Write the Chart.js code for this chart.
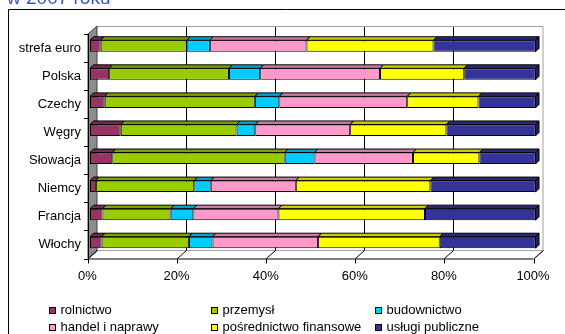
<!DOCTYPE html>
<html>
<head>
<meta charset="utf-8">
<script src="https://cdn.jsdelivr.net/npm/chart.js@4"></script>
<style>
  body { margin: 0; background: #fff; }
  #wrap { position: relative; width: 565px; height: 334px; }
</style>
</head>
<body>
<div id="wrap"><canvas id="sectorChart"></canvas></div>
<script>
// Struktura wartości dodanej wg sektorów, w 2007 roku (udział %)
const categories = ['strefa euro', 'Polska', 'Czechy', 'Węgry', 'Słowacja', 'Niemcy', 'Francja', 'Włochy'];
const rolnictwo = [2.4, 4.3, 3.3, 6.9, 5.0, 1.3, 2.8, 2.6];
const przemysl = [19.3, 26.9, 33.7, 26.0, 38.7, 22.1, 15.3, 19.6];
const budownictwo = [5.2, 7.0, 5.5, 4.2, 6.7, 3.7, 5.1, 5.3];
const handel = [21.7, 26.9, 28.7, 21.3, 22.1, 19.1, 19.1, 23.7];
const posrednictwo = [28.5, 18.9, 16.0, 21.6, 14.9, 30.2, 32.9, 27.3];
const uslugi = [22.9, 16.0, 12.8, 20.0, 12.6, 23.6, 24.8, 21.5];
const xTicks = [0, 20, 40, 60, 80, 100];
const titleText = 'w 2007 roku';

const FONT = '"Liberation Sans", Arial, sans-serif';
Chart.defaults.font.family = FONT;
Chart.defaults.font.size = 13;
Chart.defaults.color = '#000';

// colours: front face, top face
const series = [
  { label: 'rolnictwo', data: rolnictwo, color: '#993366', top: '#7a2952' },
  { label: 'przemysł', data: przemysl, color: '#99cc00', top: '#7aa300' },
  { label: 'budownictwo', data: budownictwo, color: '#00ccff', top: '#00a3cc' },
  { label: 'handel i naprawy', data: handel, color: '#ff99cc', top: '#cc7aa3' },
  { label: 'pośrednictwo finansowe', data: posrednictwo, color: '#ffff00', top: '#cccc00' },
  { label: 'usługi publiczne', data: uslugi, color: '#333399', top: '#29297a', side: '#1f1f5c' }
];

// fake 3D: walls, floor, bar tops, legend and the cut title
const depth3d = {
  id: 'depth3d',
  beforeDatasetsDraw(chart) {
    const ctx = chart.ctx;
    const a = chart.chartArea;
    const xs = chart.scales.x;
    const ys = chart.scales.y;
    const fT = a.top + 2, fB = a.bottom + 2, bT = a.top - 6, bB = a.bottom - 6;
    const x0f = xs.getPixelForValue(0) - 2, x1f = xs.getPixelForValue(100) - 2;
    const x0b = x0f + 9, x1b = x1f + 9;
    ctx.save();
    ctx.lineWidth = 1;

    // back wall
    ctx.fillStyle = '#fff';
    ctx.fillRect(x0b, bT, x1b - x0b, bB - bT);
    ctx.strokeStyle = '#a0a0a0';
    ctx.beginPath();
    ctx.moveTo(x0b, bT + 0.5); ctx.lineTo(x1b + 0.5, bT + 0.5); ctx.lineTo(x1b + 0.5, bB);
    ctx.stroke();

    // floor
    ctx.beginPath();
    ctx.moveTo(x0f, fB); ctx.lineTo(x0b, bB); ctx.lineTo(x1b + 0.5, bB); ctx.lineTo(x1f + 0.5, fB);
    ctx.fillStyle = '#fff';
    ctx.fill();
    ctx.strokeStyle = '#a0a0a0';
    ctx.stroke();

    // side wall
    ctx.beginPath();
    ctx.moveTo(x0f, fT); ctx.lineTo(x0b, bT); ctx.lineTo(x0b, bB); ctx.lineTo(x0f, fB);
    ctx.closePath();
    ctx.fillStyle = '#8c8c8c';
    ctx.fill();
    ctx.strokeStyle = '#404040';
    ctx.stroke();

    // grid on back wall and floor, x ticks
    ctx.strokeStyle = '#000';
    xTicks.forEach(v => {
      const xf = Math.round(xs.getPixelForValue(v) - 2) + 0.5;
      const xb = xf + 9;
      if (v > 0 && v < 100) {
        ctx.beginPath(); ctx.moveTo(xb, bT + 1); ctx.lineTo(xb, bB); ctx.stroke();
      }
      ctx.beginPath();
      ctx.moveTo(xb, bB); ctx.lineTo(xf, fB);
      ctx.lineTo(xf, fB + 5);
      ctx.stroke();
    });

    // axis lines
    ctx.beginPath();
    ctx.moveTo(x0f + 0.5, fT); ctx.lineTo(x0f + 0.5, fB + 0.5); ctx.lineTo(x1f, fB + 0.5);
    ctx.stroke();

    // category ticks
    const step = (a.bottom - a.top) / categories.length;
    for (let i = 0; i <= categories.length; i++) {
      const y = Math.round(a.top + 2 + i * step) + 0.5;
      ctx.beginPath(); ctx.moveTo(x0f - 4, y); ctx.lineTo(x0f + 0.5, y); ctx.stroke();
    }
    ctx.restore();
  },
  afterDatasetsDraw(chart) {
    const ctx = chart.ctx;
    const d = 3.5;
    ctx.save();
    ctx.lineWidth = 1;
    ctx.strokeStyle = '#000';
    chart.data.datasets.forEach((ds, i) => {
      const meta = chart.getDatasetMeta(i);
      meta.data.forEach(el => {
        const p = el.getProps(['x', 'y', 'base', 'height'], true);
        const top = p.y - p.height / 2, bot = p.y + p.height / 2;
        ctx.beginPath();
        ctx.moveTo(p.base, top); ctx.lineTo(p.x, top);
        ctx.lineTo(p.x + d, top - d); ctx.lineTo(p.base + d, top - d);
        ctx.closePath();
        ctx.fillStyle = series[i].top;
        ctx.fill(); ctx.stroke();
        if (series[i].side) {
          ctx.beginPath();
          ctx.moveTo(p.x, top); ctx.lineTo(p.x + d, top - d);
          ctx.lineTo(p.x + d, bot - d); ctx.lineTo(p.x, bot);
          ctx.closePath();
          ctx.fillStyle = series[i].side;
          ctx.fill(); ctx.stroke();
        }
      });
    });
    ctx.restore();
  },
  afterDraw(chart) {
    const ctx = chart.ctx;
    ctx.save();
    // outer frame (only left and top edges are in view)
    ctx.strokeStyle = '#000';
    ctx.lineWidth = 1;
    ctx.beginPath();
    ctx.moveTo(8.5, 334); ctx.lineTo(8.5, 9.5); ctx.lineTo(565, 9.5);
    ctx.stroke();

    // title, cut by the top edge
    ctx.fillStyle = '#3355cc';
    ctx.font = '19px ' + FONT;
    ctx.textBaseline = 'alphabetic';
    ctx.fillText(titleText, 7, 4);

    // legend, 3 columns x 2 rows
    const cols = [49, 211, 375];
    const rows = [310.5, 327.5];
    ctx.font = '13px ' + FONT;
    ctx.textBaseline = 'middle';
    series.forEach((s, i) => {
      const x = cols[i % 3], y = rows[Math.floor(i / 3)];
      ctx.fillStyle = s.color;
      ctx.fillRect(x + 0.5, Math.round(y - 3.5) + 0.5, 6, 6);
      ctx.strokeStyle = '#000';
      ctx.strokeRect(x + 0.5, Math.round(y - 3.5) + 0.5, 6, 6);
      ctx.fillStyle = '#000';
      ctx.fillText(s.label, x + 11.5, y);
    });
    ctx.restore();
  }
};

const ctx = document.getElementById('sectorChart').getContext('2d');

new Chart(ctx, {
  type: 'bar',
  data: {
    labels: categories,
    datasets: series.map(s => ({
      label: s.label,
      data: s.data,
      backgroundColor: s.color,
      borderColor: '#000',
      borderWidth: 1,
      borderSkipped: false,
      categoryPercentage: 1,
      barPercentage: 0.41
    }))
  },
  options: {
    indexAxis: 'y',
    responsive: true,
    maintainAspectRatio: false,
    animation: false,
    layout: { padding: { left: 0, right: 29.5, top: 32, bottom: 47.5 } },
    plugins: {
      legend: { display: false },
      tooltip: { enabled: false }
    },
    scales: {
      x: {
        stacked: true,
        min: 0,
        max: 100,
        afterFit: s => { s.height = 30; },
        afterBuildTicks: s => { s.ticks = xTicks.map(v => ({ value: v })); },
        grid: { display: false, drawTicks: false },
        border: { display: false },
        ticks: {
          padding: 12,
          labelOffset: -2.5,
          maxRotation: 0,
          callback: v => v + '%'
        }
      },
      y: {
        stacked: true,
        afterFit: s => { s.width = 90; },
        grid: { display: false, drawTicks: false },
        border: { display: false },
        ticks: { padding: 9, labelOffset: 2 }
      }
    }
  },
  plugins: [depth3d]
});
</script>
</body>
</html>
